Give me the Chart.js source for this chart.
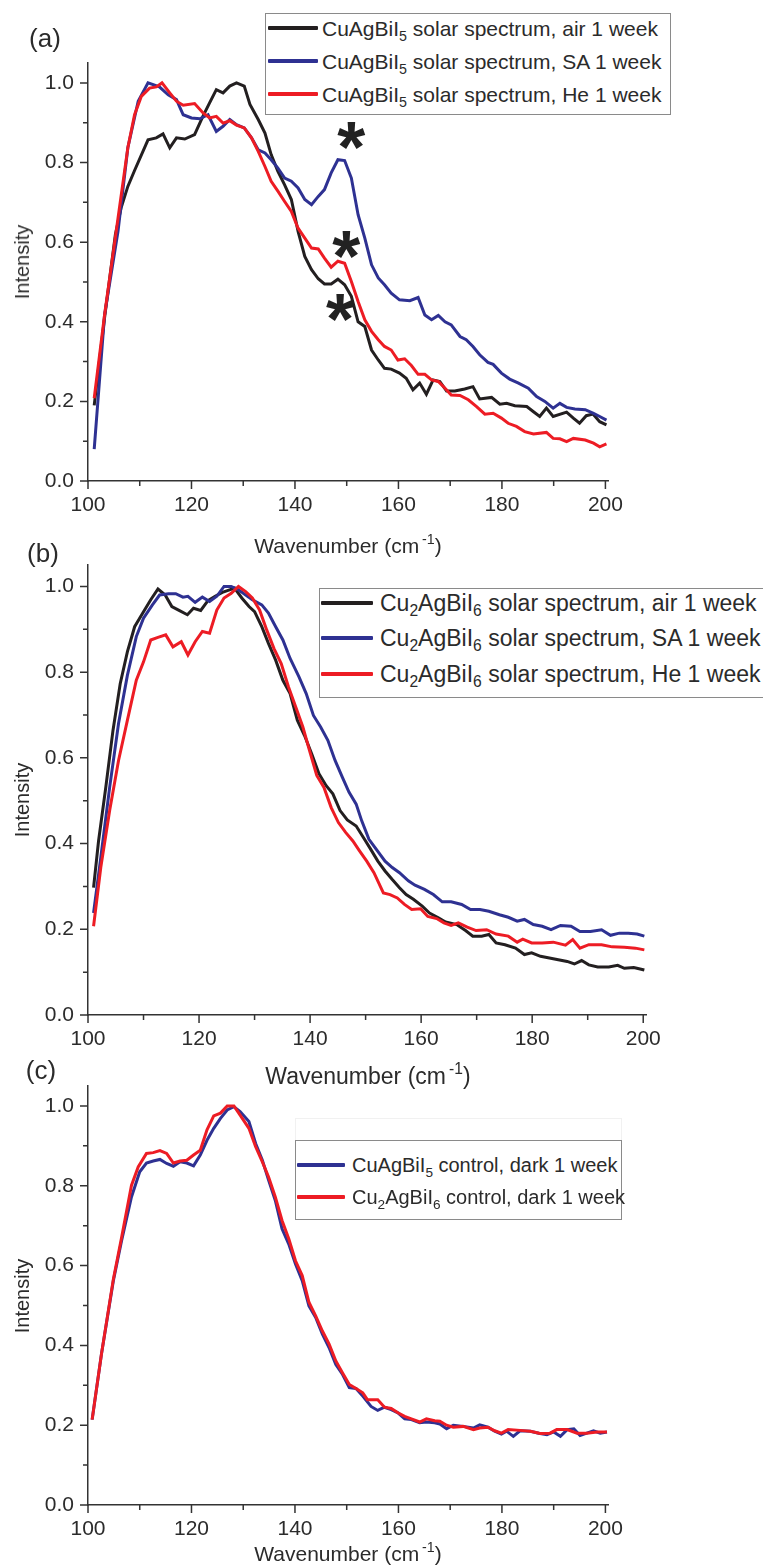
<!DOCTYPE html>
<html>
<head>
<meta charset="utf-8">
<script src="https://cdn.jsdelivr.net/npm/chart.js@4.4.0/dist/chart.umd.min.js"></script>
<style>
  body { margin: 0; background: #fff; width: 763px; height: 1568px; position: relative; overflow: hidden;
         font-family: "Liberation Sans", Arial, sans-serif; color: #2b2b2b; }
  canvas { position: absolute; left: 0; }
  .txt { position: absolute; white-space: nowrap; line-height: 1; }
  .legend { position: absolute; border: 1px solid #8a8a8a; background: #fff; }
  .swatch { position: absolute; height: 4px; border-radius: 1px; }
  sub { font-size: 0.68em; vertical-align: -0.38em; line-height: 0; }
  sup { font-size: 0.68em; vertical-align: 0.6em; line-height: 0; }
</style>
</head>
<body>
<canvas id="chartA" width="763" height="530" style="top:0px"></canvas>
<canvas id="chartB" width="763" height="530" style="top:530px"></canvas>
<canvas id="chartC" width="763" height="508" style="top:1060px"></canvas>

<script>
// ---------- data ----------
const xTicksAll = [100, 110, 120, 130, 140, 150, 160, 170, 180, 190, 200];
const yTicksAll = [0, 0.1, 0.2, 0.3, 0.4, 0.5, 0.6, 0.7, 0.8, 0.9, 1.0];

// panel (a)  CuAgBiI5
const labelsA = ['CuAgBiI_5 solar spectrum, air 1 week', 'CuAgBiI_5 solar spectrum, SA 1 week', 'CuAgBiI_5 solar spectrum, He 1 week'];
const airA_x = [101.2,103.2,105.3,106.4,107.7,109,111.6,113.2,114.5,115.8,117.1,118.7,120.6,122.2,123.5,124.8,126.1,127.4,128.7,130.2,131.3,132.9,134.2,135.4,136.7,138,139.3,140.6,141.9,143.2,144.5,145.7,147,148.3,149.6,150.9,152.2,153.5,154.8,156.1,157.3,158.6,160.2,161.5,162.8,164.1,165.4,166.7,168,169.3,170.9,172.8,174.4,175.7,178,179.6,180.9,182.5,184.8,186.1,187.3,188.6,189.9,192.5,193.8,195,196.3,197.6,198.9,200.2];
const airA_y = [0.19,0.41,0.62,0.686,0.74,0.78,0.857,0.862,0.872,0.837,0.862,0.859,0.87,0.916,0.95,0.983,0.975,0.992,1.0,0.992,0.946,0.908,0.874,0.82,0.778,0.744,0.707,0.627,0.564,0.531,0.508,0.495,0.495,0.507,0.493,0.464,0.40,0.388,0.329,0.304,0.283,0.281,0.271,0.258,0.229,0.246,0.218,0.254,0.25,0.226,0.226,0.231,0.237,0.206,0.21,0.193,0.195,0.189,0.187,0.174,0.162,0.183,0.162,0.173,0.158,0.145,0.164,0.168,0.149,0.141];
const saA_x = [101.2,103.2,105.8,107.7,109.7,111.6,113.8,115.5,117.1,118.4,120,121.6,123.2,124.8,126.1,127.4,128.7,130.2,131.6,132.9,134.2,135.4,136.7,138,139.3,140.6,141.9,143.2,144.5,145.7,147,148.3,149.6,150.9,152.2,153.5,154.8,156.1,157.3,158.6,160.2,162.2,163.8,165.1,166.4,167.7,169,170.2,171.9,173.1,174.4,175.7,177.3,178.3,179.9,181.5,183.2,185.1,186.7,188.3,189.9,191.2,192.5,194.1,196.1,197.7,198.9,200.2];
const saA_y = [0.08,0.417,0.627,0.837,0.954,1.0,0.99,0.97,0.958,0.92,0.912,0.91,0.92,0.878,0.891,0.908,0.895,0.887,0.862,0.832,0.824,0.807,0.786,0.761,0.753,0.736,0.707,0.694,0.715,0.732,0.774,0.807,0.805,0.761,0.669,0.61,0.543,0.51,0.493,0.472,0.455,0.453,0.461,0.417,0.405,0.416,0.40,0.392,0.363,0.355,0.338,0.317,0.298,0.293,0.271,0.256,0.246,0.233,0.212,0.2,0.183,0.195,0.185,0.181,0.179,0.17,0.162,0.153];
const heA_x = [101.2,103.2,105.8,107.7,109,110.3,111.9,113.2,114.3,115.8,117.1,118.4,120.6,122.2,123.5,124.8,126.1,127.4,128.7,130.2,131.6,132.9,134.2,135.4,136.7,138,139.3,140.6,141.9,143.2,144.5,145.7,147,148.3,149.6,150.9,152.2,153.5,154.8,156.1,157.3,158.6,159.9,161.2,162.5,163.8,165.1,166.4,167.7,169,170.2,171.9,173.5,175.1,176.7,178.3,179.9,181.2,182.8,184.4,186.1,188.6,189.9,191.2,192.5,193.8,196.1,197.7,198.9,200.2];
const heA_y = [0.208,0.417,0.66,0.837,0.92,0.966,0.987,0.99,1.0,0.975,0.954,0.944,0.948,0.925,0.912,0.916,0.899,0.905,0.894,0.887,0.862,0.828,0.79,0.753,0.728,0.702,0.677,0.635,0.61,0.585,0.583,0.56,0.537,0.552,0.547,0.501,0.451,0.405,0.376,0.355,0.338,0.329,0.304,0.307,0.29,0.268,0.268,0.254,0.25,0.233,0.216,0.215,0.204,0.187,0.168,0.17,0.158,0.145,0.137,0.124,0.118,0.122,0.107,0.106,0.099,0.107,0.103,0.095,0.086,0.093];
// asterisks marking the ~150 cm-1 feature
const starX = [150.9, 149.9, 148.7];
const starY = [0.862, 0.588, 0.430];

// panel (b)  Cu2AgBiI6
const labelsB = ['Cu_2AgBiI_6 solar spectrum, air 1 week', 'Cu_2AgBiI_6 solar spectrum, SA 1 week', 'Cu_2AgBiI_6 solar spectrum, He 1 week'];
const airB_x = [101,101.9,103.2,104.5,105.8,107.1,108.4,110,111.3,112.6,113.9,115.1,116.4,117.9,119,120.3,121.6,122.9,124.2,125.5,126.4,127.7,129,130,131.3,132.5,133.8,135.1,136.4,137.7,139,140.3,141.6,142.9,144.1,145.4,146.7,148.3,149.6,150.9,152.2,153.5,154.8,156.1,157.3,158.6,160.2,161.5,163.1,164.4,166.4,168,169.3,170.9,172.2,173.5,175.1,177,178.6,179.9,181.5,183.1,184.7,186.3,187.6,188.9,190.2,191.8,193.8,195.4,196.6,198.3,200.2];
const airB_y = [0.297,0.406,0.531,0.664,0.773,0.848,0.906,0.941,0.969,0.994,0.98,0.953,0.944,0.934,0.949,0.944,0.967,0.977,0.986,0.992,0.996,0.973,0.953,0.941,0.906,0.867,0.828,0.781,0.75,0.688,0.652,0.609,0.563,0.535,0.516,0.477,0.455,0.441,0.414,0.387,0.359,0.336,0.316,0.297,0.281,0.27,0.254,0.238,0.227,0.217,0.211,0.197,0.184,0.184,0.188,0.168,0.164,0.156,0.141,0.145,0.137,0.133,0.129,0.125,0.119,0.127,0.117,0.112,0.112,0.116,0.109,0.111,0.105];
const saB_x = [101,102.3,103.9,105.5,107.1,108.7,110,111.6,112.9,114.5,115.8,117.1,118,119.3,120.6,121.9,123.2,124.5,125.8,127.1,128.4,129.6,131.3,132.5,133.8,135.1,136.4,138,139.3,140.6,141.9,143.2,144.5,145.8,147,148.3,149.3,150.6,151.9,153.5,154.8,156.1,157.7,158.9,160.6,162.2,163.8,165.4,167.3,168.9,170.6,172.2,174.1,175.7,177.3,178.6,180.2,181.8,183.4,185.1,187,188.6,190.5,192.5,194.1,195.7,197.3,198.9,200.2];
const saB_y = [0.238,0.367,0.531,0.68,0.793,0.883,0.926,0.957,0.98,0.983,0.983,0.975,0.977,0.963,0.975,0.965,0.977,1.0,1.0,0.992,0.98,0.969,0.957,0.938,0.906,0.875,0.832,0.789,0.75,0.699,0.672,0.641,0.594,0.555,0.52,0.492,0.453,0.41,0.387,0.359,0.344,0.332,0.313,0.303,0.293,0.281,0.264,0.264,0.258,0.246,0.246,0.242,0.234,0.228,0.219,0.223,0.211,0.207,0.199,0.209,0.207,0.195,0.195,0.199,0.186,0.191,0.191,0.189,0.184];
const heB_x = [101,102.3,103.9,105.5,107.1,108.7,110,111.3,112.6,114,115.3,116.8,118,119.3,120.6,121.9,123.2,124.5,125.8,127.1,128.4,129.6,130.9,132.2,133.5,134.8,136.1,137.4,138.7,139.9,141.2,142.5,143.8,145.1,146.4,147.7,148.9,150.2,151.5,153.2,154.4,155.7,157,158.3,159.9,161.2,162.8,164.1,165.4,166.7,168.3,169.9,171.8,173.5,175.7,177.3,178.3,179.9,181.8,183.8,186,187.3,188.6,190.2,192.5,194.4,196.6,198.6,200.2];
const heB_y = [0.207,0.344,0.477,0.594,0.688,0.781,0.824,0.875,0.881,0.887,0.859,0.871,0.84,0.871,0.895,0.891,0.945,0.973,0.984,1.0,0.988,0.973,0.945,0.898,0.855,0.82,0.766,0.719,0.672,0.617,0.559,0.531,0.484,0.449,0.426,0.406,0.383,0.359,0.332,0.285,0.281,0.273,0.258,0.246,0.248,0.23,0.225,0.215,0.209,0.215,0.205,0.197,0.199,0.189,0.184,0.17,0.177,0.168,0.168,0.17,0.163,0.176,0.156,0.164,0.164,0.159,0.158,0.156,0.152];

// panel (c)  dark controls
const labelsC = ['CuAgBiI_5 control, dark 1 week', 'Cu_2AgBiI_6 control, dark 1 week'];
const darkC1_x = [100.8,102.6,104.9,106.5,108.4,110,111.3,112.6,113.9,115.2,116.5,117.8,119.1,120.4,121.7,123,124.3,125.6,126.9,128.2,129.4,131.1,132.4,133.7,134.9,136.2,137.5,138.8,140.1,141.4,142.7,144,145.3,146.6,147.9,149.2,150.5,151.8,153.1,154.7,156,157.3,158.6,159.9,161.2,162.5,164.1,165.4,167,168,169.3,170.6,172.5,174.5,175.7,177.3,178.6,179.9,180.9,182.2,183.5,185.5,187.1,188.7,190,191.3,192.6,193.9,195.1,196.4,197.7,199,200.3];
const darkC1_y = [0.214,0.378,0.562,0.663,0.772,0.835,0.857,0.862,0.866,0.856,0.849,0.86,0.857,0.85,0.877,0.914,0.944,0.969,0.99,0.998,0.986,0.961,0.906,0.864,0.814,0.763,0.692,0.654,0.604,0.562,0.499,0.47,0.428,0.394,0.352,0.327,0.294,0.292,0.273,0.247,0.237,0.245,0.239,0.231,0.216,0.214,0.206,0.208,0.206,0.203,0.191,0.2,0.197,0.193,0.201,0.195,0.185,0.178,0.185,0.172,0.186,0.185,0.18,0.176,0.183,0.172,0.189,0.191,0.174,0.18,0.186,0.18,0.183];
const darkC2_x = [100.8,102.6,104.9,106.5,108.4,109.7,111.3,112.6,113.9,115.2,116.5,117.8,119.1,120.4,121.7,123,124.3,125.6,126.9,128.2,129.4,131.1,132.4,133.7,134.9,136.2,137.5,138.8,140.1,141.4,142.7,144,145.3,146.6,147.9,149.2,150.5,151.8,153.1,154,156,157.3,158.6,159.9,161.2,162.5,164.1,165.4,167,168,169.3,170.6,172.5,174.5,175.7,177.3,178.6,179.9,181.2,183.5,185.5,187.4,189.3,190.6,192.6,194.5,196.4,198.4,200.3];
const darkC2_y = [0.214,0.378,0.566,0.671,0.801,0.847,0.881,0.883,0.888,0.881,0.857,0.862,0.864,0.877,0.889,0.94,0.975,0.982,1.0,1.0,0.977,0.944,0.898,0.86,0.822,0.772,0.713,0.667,0.612,0.575,0.508,0.474,0.436,0.403,0.361,0.331,0.302,0.292,0.281,0.264,0.264,0.245,0.242,0.231,0.222,0.216,0.208,0.216,0.211,0.21,0.2,0.195,0.197,0.189,0.193,0.195,0.186,0.18,0.189,0.187,0.185,0.179,0.18,0.189,0.189,0.18,0.18,0.183,0.183];

// ---------- helpers ----------
const FONT = '"Liberation Sans", Arial, sans-serif';
const INK = '#2b2b2b';
const BLACK = '#231f20', BLUE = '#2e3192', RED = '#ed1c24';
Chart.defaults.font.family = FONT;
Chart.defaults.color = INK;

function zip(xs, ys) {
    return xs.map((x, i) => ({ x: x, y: ys[i] }));
}

function rich(s) {
    return s.replace(/_(\d)/g, '<sub>$1</sub>');
}

function addText(html, x, y, size, extra) {
    const d = document.createElement('div');
    d.className = 'txt';
    d.innerHTML = html;
    d.style.left = x + 'px';
    d.style.top = y + 'px';
    d.style.fontSize = size + 'px';
    d.style.transform = extra || 'translate(-50%, -50%)';
    document.body.appendChild(d);
    return d;
}

// major + minor tick marks, drawn from the chart's own scales
const tickMarks = {
    id: 'tickMarks',
    afterDraw(chart) {
        const { ctx, scales: { x, y } } = chart;
        ctx.save();
        ctx.strokeStyle = '#333';
        ctx.lineWidth = 1.5;
        ctx.beginPath();
        xTicksAll.forEach(v => {
            const px = x.getPixelForValue(v);
            const len = v % 20 === 0 ? 8 : 5;
            ctx.moveTo(px, y.bottom);
            ctx.lineTo(px, y.bottom + len);
        });
        yTicksAll.forEach((v, i) => {
            const py = y.getPixelForValue(v);
            const len = i % 2 === 0 ? 8 : 5;
            ctx.moveTo(x.left, py);
            ctx.lineTo(x.left - len, py);
        });
        ctx.stroke();
        ctx.restore();
    }
};

// asterisks in panel (a)
const stars = {
    id: 'stars',
    afterDatasetsDraw(chart, args, opts) {
        if (!opts.show) return;
        const { ctx, scales: { x, y } } = chart;
        const fs = 72;
        ctx.save();
        ctx.fillStyle = '#222';
        ctx.font = 'bold ' + fs + 'px ' + FONT;
        ctx.textAlign = 'center';
        ctx.textBaseline = 'alphabetic';
        starX.forEach((v, i) => {
            ctx.fillText('*', x.getPixelForValue(v), y.getPixelForValue(starY[i]) + fs * 0.48);
        });
        ctx.restore();
    }
};

function makePanel(id, area, series, xMax, showStars) {
    const canvas = document.getElementById(id);
    const W = canvas.width, H = canvas.height;
    const n = series.length;
    return new Chart(canvas, {
        type: 'line',
        data: {
            datasets: series.map((s, i) => ({
                label: s.label.replace(/_/g, ''),
                data: zip(s.x, s.y),
                borderColor: s.color,
                borderWidth: 3,
                pointRadius: 0,
                tension: 0,
                fill: false,
                order: n - i
            }))
        },
        options: {
            responsive: false,
            animation: false,
            devicePixelRatio: 1,
            layout: { padding: { left: 0, top: area.top, right: W - area.right, bottom: 0 } },
            plugins: { legend: { display: false }, tooltip: { enabled: false }, stars: { show: showStars } },
            scales: {
                x: {
                    type: 'linear', min: 100, max: xMax,
                    grid: { display: true, drawOnChartArea: false, drawTicks: true, tickLength: 8, color: 'rgba(0,0,0,0)' },
                    border: { display: true, color: '#333', width: 1.5 },
                    ticks: { stepSize: 20, includeBounds: false, padding: 4, maxRotation: 0,
                             font: { size: 21 }, color: INK },
                    afterFit: s => { s.height = H - area.bottom; }
                },
                y: {
                    type: 'linear', min: 0, max: 1.05,
                    grid: { display: true, drawOnChartArea: false, drawTicks: true, tickLength: 8, color: 'rgba(0,0,0,0)' },
                    border: { display: true, color: '#333', width: 1.5 },
                    ticks: { stepSize: 0.2, includeBounds: false, padding: 6,
                             font: { size: 21 }, color: INK,
                             callback: v => v.toFixed(1) },
                    afterFit: s => { s.width = area.left; }
                }
            }
        },
        plugins: [tickMarks, stars]
    });
}

function makeLegend(box, labels, colors, rows, sw, textX, size) {
    const b = document.createElement('div');
    b.className = 'legend';
    b.style.left = box.left + 'px';
    b.style.top = box.top + 'px';
    b.style.width = box.width + 'px';
    b.style.height = box.height + 'px';
    document.body.appendChild(b);
    labels.forEach((lab, i) => {
        const s = document.createElement('div');
        s.className = 'swatch';
        s.style.left = sw[0] + 'px';
        s.style.width = (sw[1] - sw[0]) + 'px';
        s.style.top = (rows[i] - 2) + 'px';
        s.style.background = colors[i];
        document.body.appendChild(s);
        addText(rich(lab), textX, rows[i], size, 'translate(0, -50%)');
    });
}

// ---------- panel (a) ----------
makePanel('chartA', { left: 88, right: 608, top: 63, bottom: 481 }, [
    { label: labelsA[0], x: airA_x, y: airA_y, color: BLACK },
    { label: labelsA[1], x: saA_x, y: saA_y, color: BLUE },
    { label: labelsA[2], x: heA_x, y: heA_y, color: RED }
], 200.5, true);
makeLegend({ left: 265, top: 13, width: 404, height: 100 }, labelsA, [BLACK, BLUE, RED],
    [28, 61, 94], [268, 318], 322, 21);
addText('(a)', 45, 38, 26);
addText('Wavenumber (cm<sup>&thinsp;-1</sup>)', 348, 545, 21);
addText('Intensity', 22, 262, 20, 'translate(-50%, -50%) rotate(-90deg)');

// ---------- panel (b) ----------
makePanel('chartB', { left: 88, right: 646, top: 35, bottom: 485 }, [
    { label: labelsB[0], x: airB_x, y: airB_y, color: BLACK },
    { label: labelsB[1], x: saB_x, y: saB_y, color: BLUE },
    { label: labelsB[2], x: heB_x, y: heB_y, color: RED }
], 200.5, false);
makeLegend({ left: 319, top: 588, width: 480, height: 108 }, labelsB, [BLACK, BLUE, RED],
    [603, 638, 674], [321, 373], 380, 23);
addText('(b)', 43, 553, 26);
addText('Wavenumber (cm<sup>&thinsp;-1</sup>)', 368, 1076, 23);
addText('Intensity', 22, 800, 20, 'translate(-50%, -50%) rotate(-90deg)');

// ---------- panel (c) ----------
makePanel('chartC', { left: 88, right: 608, top: 26, bottom: 445 }, [
    { label: labelsC[0], x: darkC1_x, y: darkC1_y, color: BLUE },
    { label: labelsC[1], x: darkC2_x, y: darkC2_y, color: RED }
], 200.5, false);
const ghost = document.createElement('div');
ghost.className = 'legend';
ghost.style.cssText = 'left:295px;top:1118px;width:325px;height:22px;border-color:#f1f1f1;border-bottom:none;';
document.body.appendChild(ghost);
makeLegend({ left: 295, top: 1140, width: 325, height: 78 }, labelsC, [BLUE, RED],
    [1165, 1197], [297, 345], 352, 20);
addText('(c)', 41, 1070, 26);
addText('Wavenumber (cm<sup>&thinsp;-1</sup>)', 348, 1553, 21);
addText('Intensity', 22, 1296, 20, 'translate(-50%, -50%) rotate(-90deg)');
</script>
</body>
</html>
